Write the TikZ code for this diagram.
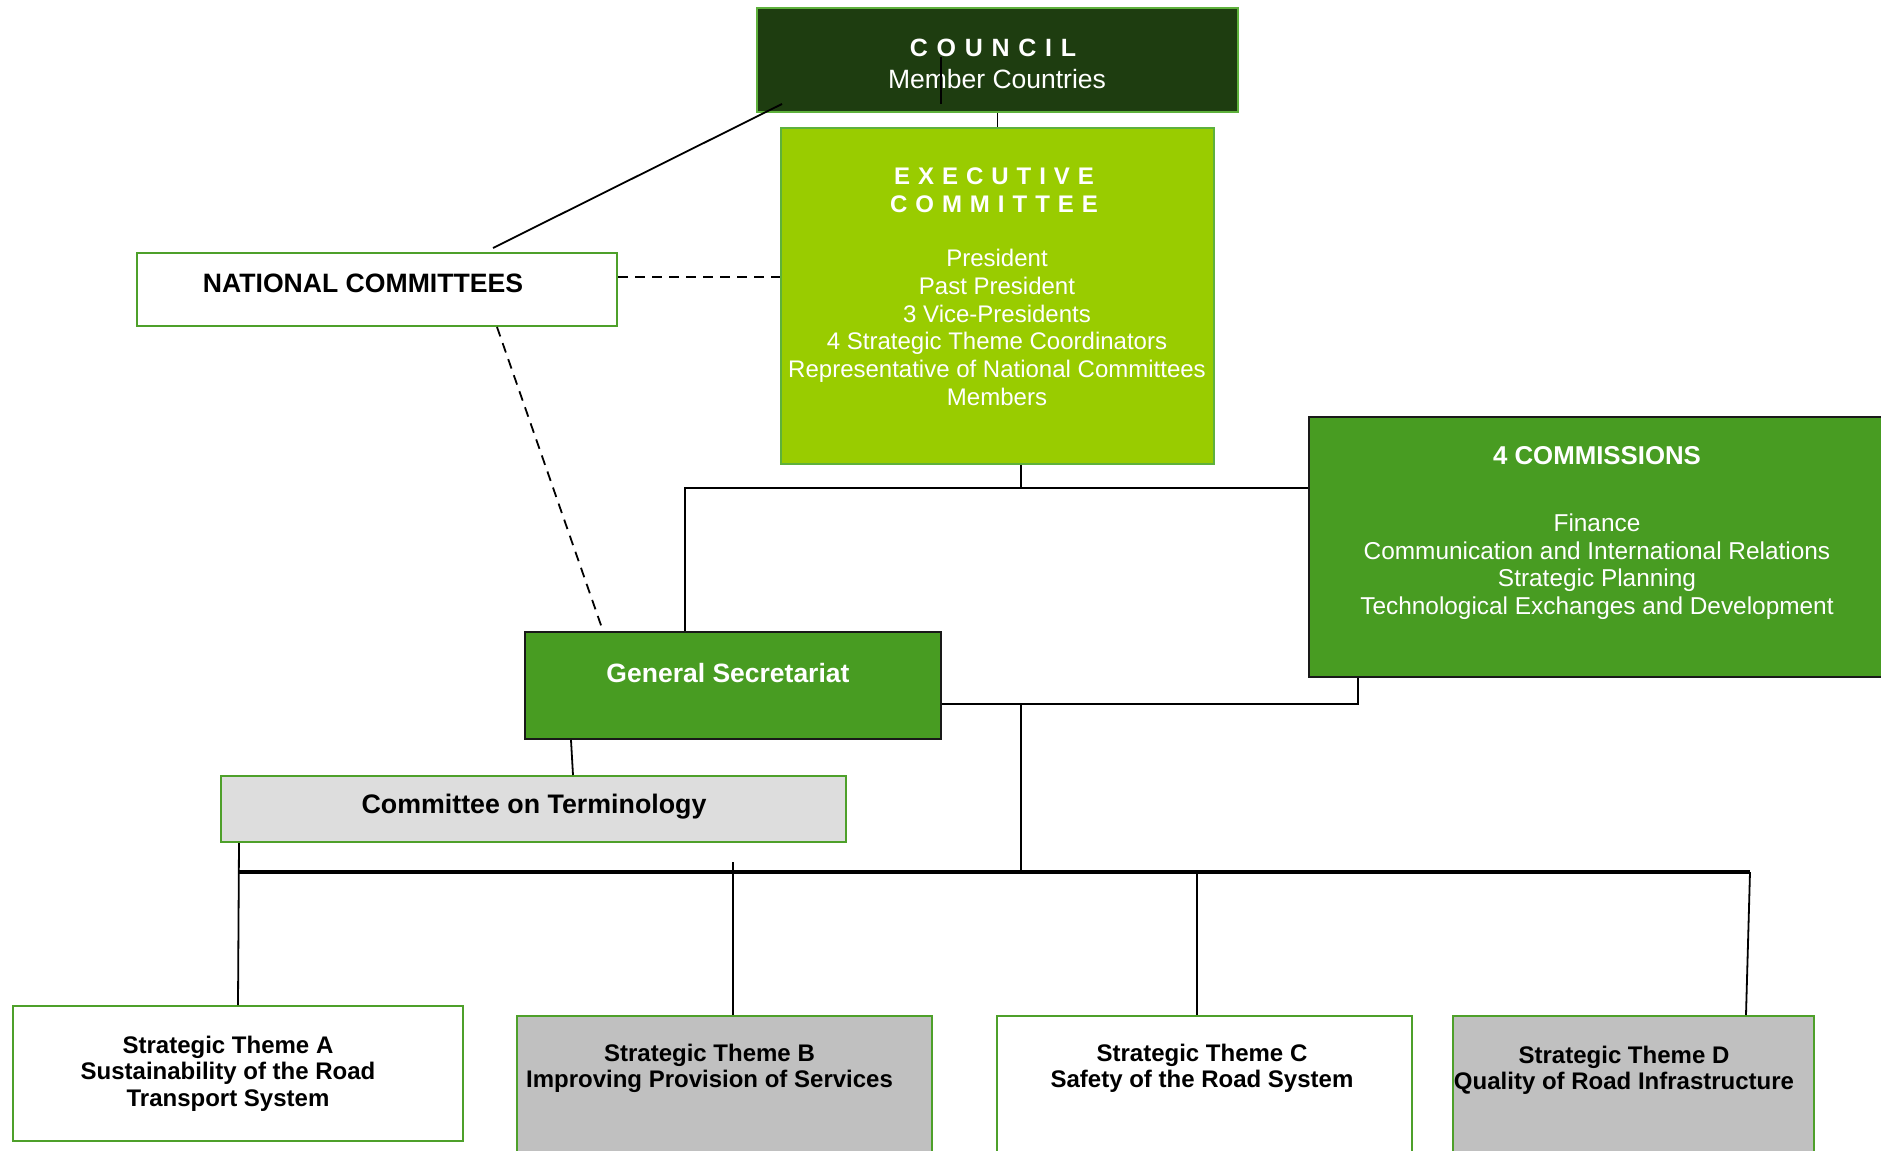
\documentclass[tikz,border=0pt]{standalone}
\usepackage{fontspec}
\setmainfont{Liberation Sans}
\definecolor{councilfill}{HTML}{1E3D10}
\definecolor{lightborder}{HTML}{5EB13C}
\definecolor{execfill}{HTML}{99CC00}
\definecolor{midgreen}{HTML}{489C22}
\definecolor{boxgreen}{HTML}{4EA02A}
\definecolor{termgray}{HTML}{DDDDDD}
\definecolor{themegray}{HTML}{C0C0C0}
\begin{document}
\begin{tikzpicture}[x=0.5pt,y=-0.5pt,
  box/.style={draw, rectangle, inner sep=0pt, line width=1pt},
  txt/.style={inner sep=0pt, align=center},
  conn/.style={line width=0.9pt, black},
  dashline/.style={conn, dash pattern=on 5pt off 3.5pt},
  bus/.style={line width=1.6pt, black}]
\useasboundingbox (0,0) rectangle (1881,1151);

% boxes
\node[box, draw=lightborder, fill=councilfill, minimum width=240.5pt, minimum height=52pt] (council) at (997.5,60) {};
\node[box, draw=lightborder, fill=execfill, minimum width=216.5pt, minimum height=168pt] (exec) at (997.5,296) {};
\node[box, draw=boxgreen, fill=white, minimum width=240pt, minimum height=36.5pt] (nc) at (377,289.5) {};
\node[box, draw=black!90, fill=midgreen, minimum width=295.5pt, minimum height=130pt] (comm) at (1604.5,547) {};
\node[box, draw=black!90, fill=midgreen, minimum width=208pt, minimum height=53.5pt] (gs) at (733,685.5) {};
\node[box, draw=boxgreen, fill=termgray, minimum width=312.5pt, minimum height=33pt] (cot) at (533.5,809) {};
\node[box, draw=boxgreen, fill=white, minimum width=225pt, minimum height=67.5pt] (tA) at (238,1073.5) {};
\node[box, draw=boxgreen, fill=themegray, minimum width=207.5pt, minimum height=77pt] (tB) at (724.5,1093) {};
\node[box, draw=boxgreen, fill=white, minimum width=207.5pt, minimum height=77pt] (tC) at (1204.5,1093) {};
\node[box, draw=boxgreen, fill=themegray, minimum width=180.5pt, minimum height=77pt] (tD) at (1633.5,1093) {};

% texts
\node[txt, anchor=base, text=white, font=\fontsize{12.5}{14}\selectfont\bfseries] (councilA) at (993,56) {\spaceskip=0.35em C O U N C I L};
\node[txt, anchor=base, text=white, font=\fontsize{13.25}{15}\selectfont] (councilB) at (997,88) {Member Countries};
\node[txt, anchor=north, text=white, font=\fontsize{12}{14.15}\selectfont\bfseries] (execA) at (994,167)
  {\spaceskip=0.333em E X E C U T I V E\\\spaceskip=0.333em C O M M I T T E E};
\node[txt, anchor=north, text=white, font=\fontsize{12}{13.83}\selectfont] (execB) at (997,249)
  {President\\Past President\\3 Vice-Presidents\\4 Strategic Theme Coordinators\\Representative of National Committees\\Members};
\node[txt, anchor=base, font=\fontsize{13.3}{15}\selectfont\bfseries] (ncT) at (363,292) {NATIONAL COMMITTEES};
\node[txt, anchor=base, text=white, font=\fontsize{12.9}{15}\selectfont\bfseries] (commA) at (1597,464) {4 COMMISSIONS};
\node[txt, anchor=north, text=white, font=\fontsize{12.2}{13.75}\selectfont] (commB) at (1597,513.5)
  {Finance\\Communication and International Relations\\Strategic Planning\\Technological Exchanges and Development};
\node[txt, anchor=base, text=white, font=\fontsize{13.25}{15}\selectfont\bfseries] (gsT) at (728,682) {General Secretariat};
\node[txt, anchor=base, font=\fontsize{13.4}{15}\selectfont\bfseries] (cotT) at (534,813) {Committee on Terminology};
\node[txt, anchor=north, font=\fontsize{12}{13.2}\selectfont\bfseries] (tAT) at (228,1035.5)
  {Strategic Theme A\\Sustainability of the Road\\Transport System};
\node[txt, anchor=north, font=\fontsize{12}{13.2}\selectfont\bfseries] (tBT) at (709.5,1043.5)
  {Strategic Theme B\\Improving Provision of Services};
\node[txt, anchor=north, font=\fontsize{12}{13.2}\selectfont\bfseries] (tCT) at (1202,1043.5)
  {Strategic Theme C\\Safety of the Road System};
\node[txt, anchor=north, font=\fontsize{12}{13.2}\selectfont\bfseries] (tDT) at (1624,1045.5)
  {Strategic Theme D\\Quality of Road Infrastructure};

% junction points
\coordinate (j1) at (1021,488);
\coordinate (j2) at (685,488);
\coordinate (j3) at (1358,704);
\coordinate (j4) at (1021,704);
\coordinate (j5) at (1021,872);
\coordinate (busL) at (238,872);
\coordinate (busR) at (1750,872);
\coordinate (bT) at (733,862);
\coordinate (cT) at (1197,872);
\coordinate (cD) at (782,104);
\coordinate (s1) at (941,57);
\coordinate (s2) at (941,104);

% connectors
\draw[conn] (council.south) -- (exec.north);
\draw[conn] (s1) -- (s2);
\draw[conn] (cD) -- ([shift={(58pt,2pt)}]nc.north);
\draw[dashline] ([yshift=6.25pt]nc.east) -- ([yshift=6.25pt]nc.east -| exec.west);
\draw[dashline] ([xshift=60pt]nc.south) -- ([xshift=39.5pt]gs.north west);
\draw[conn] (exec.south -| j1) -- (j1);
\draw[conn] (gs.north -| j2) -- (j2) -- (j2 -| comm.west);
\draw[conn] (j3 -| gs.east) -- (j3) -- (comm.south -| j3);
\draw[conn] (j4) -- (j5);
\draw[conn] ([xshift=23.5pt]gs.south west) -- ([xshift=176.5pt]cot.north west);
\draw[bus] (busL) -- (busR);
\draw[conn] ([xshift=9.5pt]cot.south west) -- (tA.north);
\draw[conn] (bT) -- (tB.north -| bT);
\draw[conn] (cT) -- (tC.north -| cT);
\draw[conn] (busR) -- ([xshift=56.25pt]tD.north);
\end{tikzpicture}
\end{document}
